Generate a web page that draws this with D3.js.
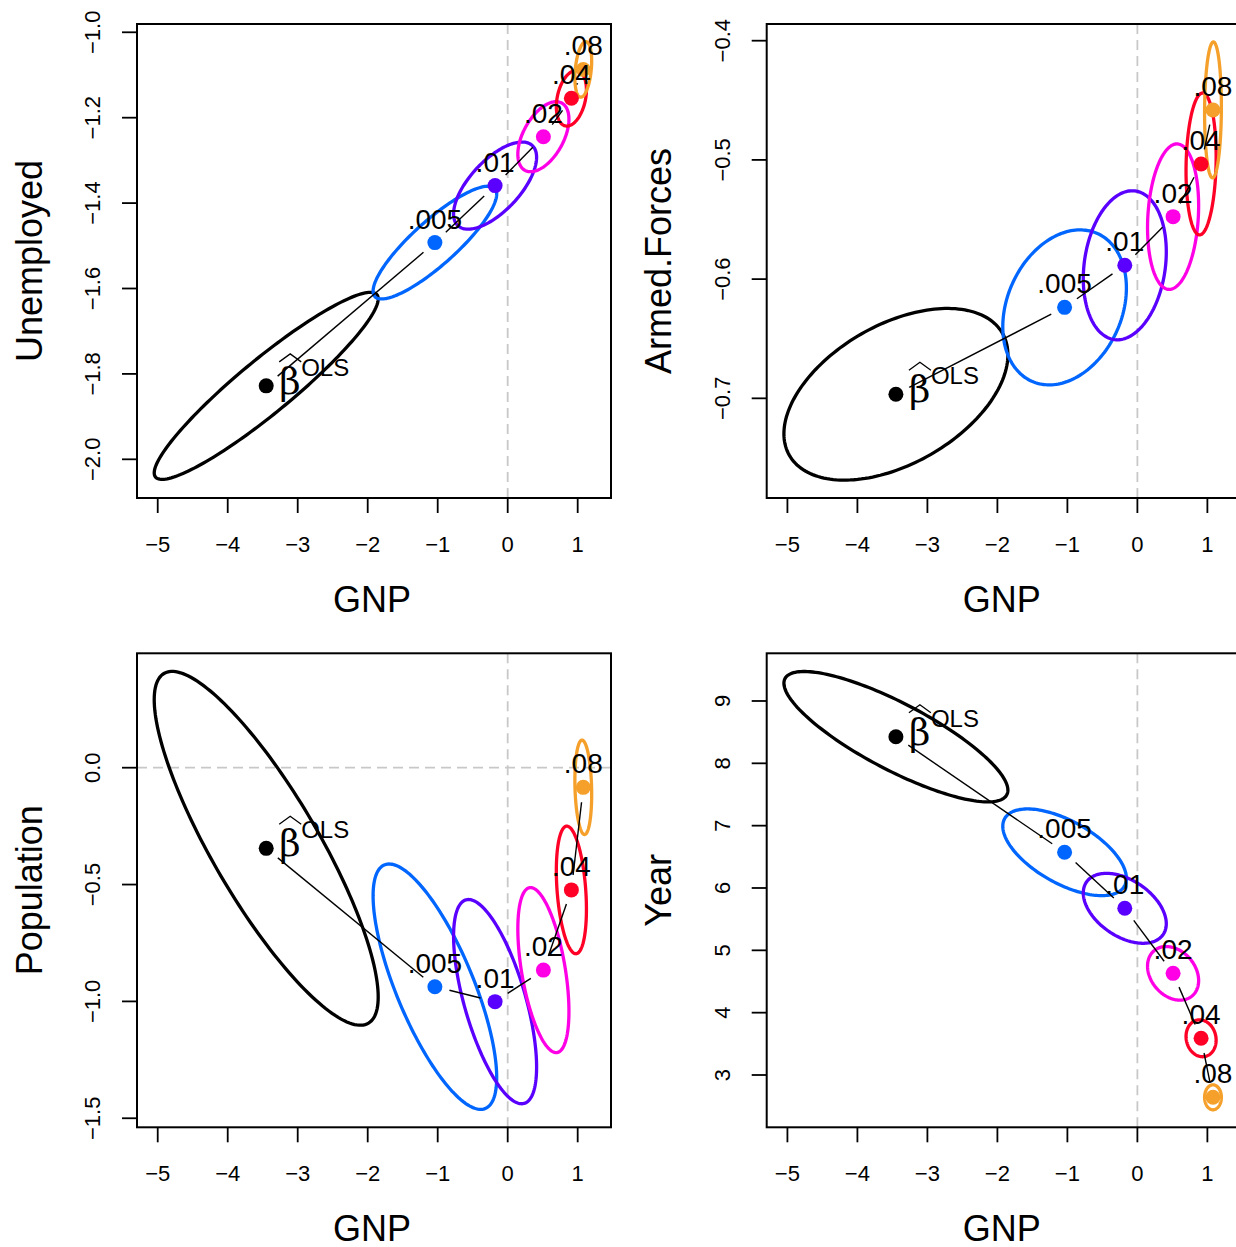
<!DOCTYPE html>
<html>
<head>
<meta charset="utf-8">
<script src="https://cdn.jsdelivr.net/npm/d3@7"></script>
<style>
  html, body { margin: 0; padding: 0; background: #fff; }
  svg { display: block; }
  text { font-family: "Liberation Sans", Arial, Helvetica, sans-serif; fill: #000; }
</style>
</head>
<body>
<svg id="chart" width="1236" height="1247"></svg>
<script>
// ---------------- data ----------------
const lambdas = ["OLS", ".005", ".01", ".02", ".04", ".08"];
const colors  = ["#000000", "#0066FF", "#5900FF", "#FF00E6", "#FF0026", "#F5A02A"];

// GNP coefficient (x in every panel) and its half-extent of the ellipse
const gnp          = [-3.45, -1.04, -0.18, 0.51, 0.91, 1.08];
const gnpHalf      = [1.60, 0.883, 0.593, 0.365, 0.215, 0.12];

const unemployed      = [-1.828, -1.4925, -1.359, -1.2445, -1.1546, -1.087];
const unemployedHalf  = [0.219, 0.132, 0.102, 0.082, 0.065, 0.065];
const unemployedCorr  = [0.93, 0.86, 0.65, 0.50, 0.30, 0.30];

const armedForces     = [-0.6966, -0.6237, -0.5884, -0.5476, -0.5034, -0.4581];
const armedForcesHalf = [0.072, 0.065, 0.0625, 0.061, 0.0595, 0.057];
const armedForcesCorr = [0.46, 0.25, 0.18, 0.15, 0.10, 0.05];

const population      = [-0.345, -0.937, -1.001, -0.866, -0.523, -0.084];
const populationHalf  = [0.757, 0.525, 0.437, 0.353, 0.273, 0.202];
const populationCorr  = [-0.84, -0.74, -0.64, -0.50, -0.30, -0.15];

const year            = [8.427, 6.573, 5.674, 4.631, 3.589, 2.642];
const yearHalf        = [1.046, 0.695, 0.561, 0.430, 0.296, 0.200];
const yearCorr        = [-0.82, -0.60, -0.44, -0.27, -0.10, 0.0];

const xTicks = [-5, -4, -3, -2, -1, 0, 1];
const unemployedTicks  = [-2.0, -1.8, -1.6, -1.4, -1.2, -1.0];
const unemployedLabels = ["\u22122.0", "\u22121.8", "\u22121.6", "\u22121.4", "\u22121.2", "\u22121.0"];
const armedTicks  = [-0.7, -0.6, -0.5, -0.4];
const armedLabels = ["\u22120.7", "\u22120.6", "\u22120.5", "\u22120.4"];
const populationTicks  = [-1.5, -1.0, -0.5, 0.0];
const populationLabels = ["\u22121.5", "\u22121.0", "\u22120.5", "0.0"];
const yearTicks  = [3, 4, 5, 6, 7, 8, 9];
const yearLabels = ["3", "4", "5", "6", "7", "8", "9"];

// ---------------- layout ----------------
const boxW = 474, boxH = 474;
const xDomain = [-5.296, 1.476];
const panels = [
  { left: 137,   top: 24,    name: "Unemployed",   y: unemployed,  yHalf: unemployedHalf,  r: unemployedCorr,  domain: [-2.0906, -0.9806], ticks: unemployedTicks, labels: unemployedLabels },
  { left: 766.7, top: 24,    name: "Armed.Forces", y: armedForces, yHalf: armedForcesHalf, r: armedForcesCorr, domain: [-0.7836, -0.386],  ticks: armedTicks,      labels: armedLabels },
  { left: 137,   top: 653.3, name: "Population",   y: population,  yHalf: populationHalf,  r: populationCorr,  domain: [-1.5387, 0.4895],  ticks: populationTicks, labels: populationLabels },
  { left: 766.7, top: 653.3, name: "Year",         y: year,        yHalf: yearHalf,        r: yearCorr,        domain: [2.161, 9.765],     ticks: yearTicks,       labels: yearLabels }
];

const svg = d3.select("#chart");
const defs = svg.append("defs");

panels.forEach((p, pi) => {
  const x = d3.scaleLinear().domain(xDomain).range([p.left, p.left + boxW]);
  const y = d3.scaleLinear().domain(p.domain).range([p.top + boxH, p.top]);
  const g = svg.append("g");

  defs.append("clipPath").attr("id", "clip" + pi)
    .append("rect").attr("x", p.left).attr("y", p.top).attr("width", boxW).attr("height", boxH);
  const plot = g.append("g").attr("clip-path", `url(#clip${pi})`);

  // reference lines at 0
  const ref = "#C8C8C8";
  if (0 >= xDomain[0] && 0 <= xDomain[1]) {
    plot.append("line").attr("x1", x(0)).attr("x2", x(0)).attr("y1", p.top).attr("y2", p.top + boxH)
      .attr("stroke", ref).attr("stroke-width", 1.8).attr("stroke-dasharray", "10,6");
  }
  if (0 >= p.domain[0] && 0 <= p.domain[1]) {
    plot.append("line").attr("y1", y(0)).attr("y2", y(0)).attr("x1", p.left).attr("x2", p.left + boxW)
      .attr("stroke", ref).attr("stroke-width", 1.8).attr("stroke-dasharray", "10,6");
  }

  // ellipses
  const ts = d3.range(0, 2 * Math.PI, Math.PI / 90);
  const line = d3.line().curve(d3.curveLinearClosed);
  lambdas.forEach((lam, i) => {
    const cx = gnp[i], cy = p.y[i], sx = gnpHalf[i], sy = p.yHalf[i], r = p.r[i];
    const s = Math.sqrt(1 - r * r);
    const pts = ts.map(t => [x(cx + sx * Math.cos(t)), y(cy + sy * (r * Math.cos(t) + s * Math.sin(t)))]);
    plot.append("path").attr("d", line(pts)).attr("fill", "none")
      .attr("stroke", colors[i]).attr("stroke-width", 3.3);
  });

  // connecting segments, shortened at both ends
  const shorten = 15;
  for (let i = 0; i < lambdas.length - 1; i++) {
    const x1 = x(gnp[i]), y1 = y(p.y[i]), x2 = x(gnp[i + 1]), y2 = y(p.y[i + 1]);
    const dx = x2 - x1, dy = y2 - y1, len = Math.hypot(dx, dy);
    if (len <= 2 * shorten) continue;
    const ux = dx / len, uy = dy / len;
    plot.append("line")
      .attr("x1", x1 + ux * shorten).attr("y1", y1 + uy * shorten)
      .attr("x2", x2 - ux * shorten).attr("y2", y2 - uy * shorten)
      .attr("stroke", "#000").attr("stroke-width", 1.4);
  }

  // centers
  lambdas.forEach((lam, i) => {
    plot.append("circle").attr("cx", x(gnp[i])).attr("cy", y(p.y[i])).attr("r", 7.5).attr("fill", colors[i]);
  });

  // labels
  lambdas.forEach((lam, i) => {
    const px = x(gnp[i]), py = y(p.y[i]);
    if (lam === "OLS") {
      g.append("text").attr("x", px + 13).attr("y", py + 8)
        .style("font-family", "'DejaVu Serif', 'Liberation Serif', serif")
        .attr("font-size", 37).text("\u03B2");
      g.append("path")
        .attr("d", `M${px + 13},${py - 24} L${px + 24},${py - 32} L${px + 35},${py - 24}`)
        .attr("fill", "none").attr("stroke", "#000").attr("stroke-width", 1.3);
      g.append("text").attr("x", px + 35).attr("y", py - 10).attr("font-size", 24).text("OLS");
    } else {
      g.append("text").attr("x", px).attr("y", py - 14).attr("text-anchor", "middle")
        .attr("font-size", 28).text(lam);
    }
  });

  // box
  g.append("rect").attr("x", p.left).attr("y", p.top).attr("width", boxW).attr("height", boxH)
    .attr("fill", "none").attr("stroke", "#000").attr("stroke-width", 2);

  // x axis
  const bottom = p.top + boxH;
  xTicks.forEach(t => {
    g.append("line").attr("x1", x(t)).attr("x2", x(t)).attr("y1", bottom).attr("y2", bottom + 15)
      .attr("stroke", "#000").attr("stroke-width", 1.8);
    g.append("text").attr("x", x(t)).attr("y", bottom + 53.7).attr("text-anchor", "middle")
      .attr("font-size", 22).text(t < 0 ? "\u2212" + Math.abs(t) : String(t));
  });
  g.append("text").attr("x", p.left + boxW / 2 - 2).attr("y", bottom + 113.7).attr("text-anchor", "middle")
    .attr("font-size", 36).text("GNP");

  // y axis
  p.ticks.forEach((t, k) => {
    g.append("line").attr("x1", p.left - 15).attr("x2", p.left).attr("y1", y(t)).attr("y2", y(t))
      .attr("stroke", "#000").attr("stroke-width", 1.8);
    g.append("text").attr("transform", `translate(${p.left - 37},${y(t)}) rotate(-90)`)
      .attr("text-anchor", "middle").attr("font-size", 22).text(p.labels[k]);
  });
  g.append("text").attr("transform", `translate(${p.left - 95.3},${p.top + boxH / 2}) rotate(-90)`)
    .attr("text-anchor", "middle").attr("font-size", 36).text(p.name);
});
</script>
</body>
</html>
